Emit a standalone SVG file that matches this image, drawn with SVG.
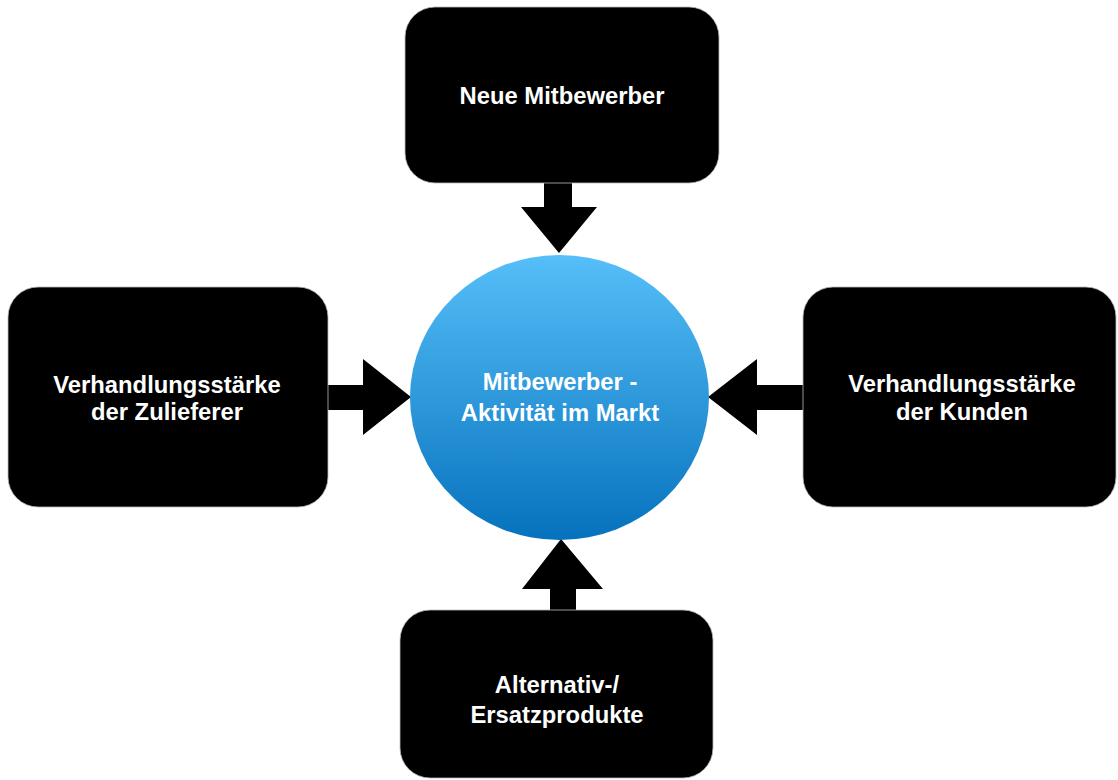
<svg xmlns="http://www.w3.org/2000/svg" width="1118" height="780" viewBox="0 0 1118 780">
<style>
.box{fill:#000;stroke:#bbb;stroke-width:0.8}
.lbl{font-family:"Liberation Sans",Arial,sans-serif;font-weight:700;font-size:23.8px;fill:#fff;text-anchor:middle}
.arr{fill:#000}
</style>
<defs>
<linearGradient id="g" x1="0" y1="0" x2="0" y2="1">
<stop offset="0" stop-color="#56bff9"/>
<stop offset="1" stop-color="#0672bd"/>
</linearGradient>
</defs>
<rect width="1118" height="780" fill="#fff"/>
<g id="connectors">
<polygon class="arr" points="544,183 572,183 572,207 597,207 559,253 521,207 544,207"/>
<polygon class="arr" points="328,385 363,385 363,359 411,397 363,435 363,410 328,410"/>
<polygon class="arr" points="803,385 757,385 757,359 708,397 757,435 757,410 803,410"/>
<polygon class="arr" points="550,611 576,611 576,589 603,589 561,539 522,589 550,589"/>
</g>
<g id="center">
<ellipse cx="559.5" cy="397.5" rx="149.5" ry="142.5" fill="url(#g)"/>
<text class="lbl" x="560" y="390">Mitbewerber -</text>
<text class="lbl" x="560" y="421">Aktivität im Markt</text>
</g>
<g id="neue">
<rect class="box" x="405" y="7" width="314" height="176" rx="30"/>
<text class="lbl" x="562" y="104">Neue Mitbewerber</text>
</g>
<g id="zulieferer">
<rect class="box" x="8" y="287" width="320" height="220" rx="30"/>
<text class="lbl" x="167" y="393">Verhandlungsstärke</text>
<text class="lbl" x="167" y="420">der Zulieferer</text>
</g>
<g id="kunden">
<rect class="box" x="803" y="287" width="313" height="220" rx="30"/>
<text class="lbl" x="962" y="392">Verhandlungsstärke</text>
<text class="lbl" x="962" y="420">der Kunden</text>
</g>
<g id="ersatz">
<rect class="box" x="400" y="610" width="313" height="168" rx="30"/>
<text class="lbl" x="557" y="693">Alternativ-/</text>
<text class="lbl" x="557" y="723">Ersatzprodukte</text>
</g>
</svg>
